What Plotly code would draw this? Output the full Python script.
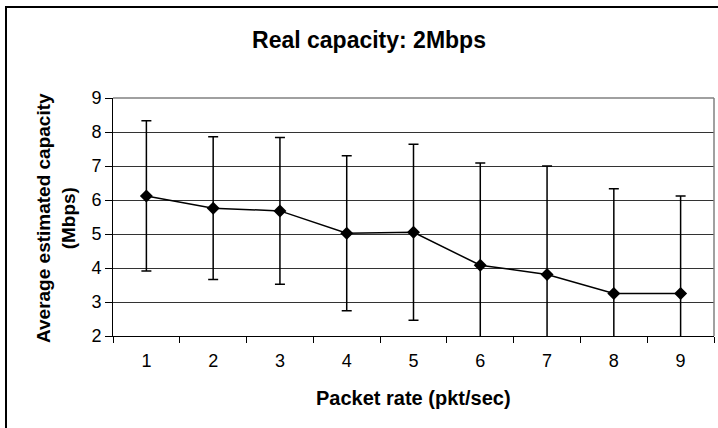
import plotly.graph_objects as go

packet_rate = ["1", "2", "3", "4", "5", "6", "7", "8", "9"]
avg_capacity = [6.12, 5.76, 5.68, 5.02, 5.05, 4.08, 3.81, 3.25, 3.25]
err_capacity = [2.21, 2.10, 2.16, 2.28, 2.59, 3.01, 3.19, 3.08, 2.87]
y_ticks = [2, 3, 4, 5, 6, 7, 8, 9]

FONT = "Liberation Sans, Arial, sans-serif"

fig = go.Figure()
fig.add_trace(go.Scatter(
    x=packet_rate, y=avg_capacity,
    mode="lines+markers",
    line=dict(color="black", width=1.5),
    marker=dict(symbol="diamond", size=10, color="black"),
    error_y=dict(type="data", array=err_capacity, visible=True,
                 color="black", thickness=1.5, width=5),
    showlegend=False,
))

W, H = 718, 428
ml, mr, mt, mb = 113, 4, 98, 92
pw, ph = W - ml - mr, H - mt - mb

def px(xp):
    return (xp - ml) / pw

def py(yp):
    return (H - mb - yp) / ph

fig.update_layout(
    width=W, height=H,
    margin=dict(l=ml, r=mr, t=mt, b=mb, pad=0),
    paper_bgcolor="white", plot_bgcolor="white",
    font=dict(family=FONT, color="black", size=18),
    title=dict(text="<b>Real capacity: 2Mbps</b>", x=369 / W, y=1 - 40 / H,
               xanchor="center", yanchor="middle",
               font=dict(family=FONT, size=23, color="black")),
    xaxis=dict(type="category", tickson="boundaries", ticks="outside",
               ticklen=6, tickcolor="black", tickwidth=1,
               showline=True, linecolor="black", linewidth=1,
               showgrid=False, ticklabelstandoff=8,
               tickfont=dict(size=18), range=[-0.5, 8.5]),
    yaxis=dict(range=[2, 9], tickvals=y_ticks, ticks="outside",
               ticklen=7, tickcolor="black", tickwidth=1,
               showline=True, linecolor="black", linewidth=1,
               showgrid=True, gridcolor="#333333", gridwidth=1,
               zeroline=False, tickfont=dict(size=18)),
    annotations=[
        dict(text="<b>Packet rate (pkt/sec)</b>", xref="paper", yref="paper",
             x=px(413), y=py(398), xanchor="center", yanchor="middle",
             showarrow=False, font=dict(size=20)),
        dict(text="<b>Average estimated capacity<br>(Mbps)</b>", xref="paper",
             yref="paper", x=px(56), y=py(218), xanchor="center",
             yanchor="middle", textangle=-90, showarrow=False,
             font=dict(size=19)),
    ],
    shapes=[
        dict(type="line", xref="paper", yref="paper", x0=0, x1=1, y0=1, y1=1,
             line=dict(color="#808080", width=1.5), layer="above"),
        dict(type="line", xref="paper", yref="paper", x0=1, x1=1, y0=0, y1=1,
             line=dict(color="#808080", width=1.5), layer="above"),
        dict(type="rect", xref="paper", yref="paper",
             x0=px(6), x1=px(730), y0=py(440), y1=py(7),
             line=dict(color="black", width=2), layer="above"),
    ],
)

fig.write_html("out.html")
